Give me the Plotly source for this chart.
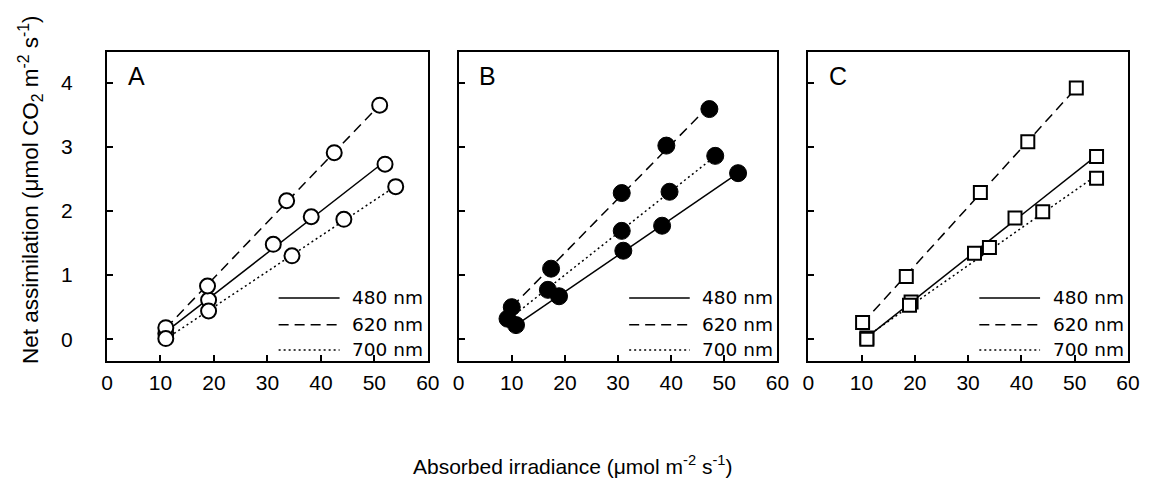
import numpy as np
import plotly.graph_objects as go

# ---------------- data ----------------
panel_labels = ["A", "B", "C"]
series_names = ["480 nm", "620 nm", "700 nm"]
x_ticks = [0, 10, 20, 30, 40, 50, 60]
y_ticks = [0, 1, 2, 3, 4]

# Panel A (open circles)
a_480_x = [11.0, 19.0, 31.1, 38.2, 52.0]
a_480_y = [0.09, 0.61, 1.48, 1.91, 2.73]
a_620_x = [11.0, 18.8, 33.6, 42.5, 51.0]
a_620_y = [0.18, 0.83, 2.16, 2.91, 3.65]
a_700_x = [11.0, 19.0, 34.6, 44.3, 54.0]
a_700_y = [0.01, 0.44, 1.30, 1.87, 2.38]

# Panel B (filled circles)
b_480_x = [10.8, 18.9, 31.0, 38.3, 52.6]
b_480_y = [0.22, 0.67, 1.38, 1.77, 2.59]
b_620_x = [10.0, 17.4, 30.7, 39.1, 47.2]
b_620_y = [0.50, 1.10, 2.28, 3.02, 3.59]
b_700_x = [9.2, 16.8, 30.7, 39.7, 48.3]
b_700_y = [0.32, 0.77, 1.69, 2.30, 2.86]

# Panel C (open squares)
c_480_x = [11.0, 19.3, 31.2, 38.8, 54.1]
c_480_y = [0.02, 0.58, 1.34, 1.89, 2.85]
c_620_x = [10.2, 18.4, 32.3, 41.2, 50.3]
c_620_y = [0.26, 0.98, 2.29, 3.08, 3.92]
c_700_x = [11.0, 19.0, 34.0, 44.0, 54.1]
c_700_y = [0.00, 0.53, 1.43, 1.99, 2.51]

panel_data = [
    [(a_480_x, a_480_y), (a_620_x, a_620_y), (a_700_x, a_700_y)],
    [(b_480_x, b_480_y), (b_620_x, b_620_y), (b_700_x, b_700_y)],
    [(c_480_x, c_480_y), (c_620_x, c_620_y), (c_700_x, c_700_y)],
]

# ---------------- styles ----------------
dashes = ["solid", "10px,6px", "2px,3px"]
markers = [
    dict(symbol="circle", size=15, color="white", line=dict(color="black", width=2)),
    dict(symbol="circle", size=17, color="black", line=dict(color="black", width=1)),
    dict(symbol="square", size=13, color="white", line=dict(color="black", width=2)),
]
domains = [[0.0, 0.3142], [0.3444, 0.6566], [0.6868, 1.0]]
Y_RANGE = [-0.34, 4.48]
FONT = "Liberation Sans, Arial, sans-serif"

fig = go.Figure()
for p in range(3):
    xa = "x" if p == 0 else f"x{p+1}"
    ya = "y" if p == 0 else f"y{p+1}"
    # regression lines
    for s, (xs, ys) in enumerate(panel_data[p]):
        coef = np.polyfit(xs, ys, 1)
        xf = np.array([min(xs), max(xs)])
        fig.add_trace(go.Scatter(
            x=xf, y=np.polyval(coef, xf), mode="lines",
            line=dict(color="black", width=1.5, dash=dashes[s]),
            xaxis=xa, yaxis=ya, showlegend=False, hoverinfo="skip"))
    # markers
    for s, (xs, ys) in enumerate(panel_data[p]):
        fig.add_trace(go.Scatter(
            x=xs, y=ys, mode="markers", marker=markers[p],
            name=series_names[s], xaxis=xa, yaxis=ya, showlegend=False))

# empty trace so the label-only overlay axis is drawn
fig.add_trace(go.Scatter(x=[None], y=[None], xaxis="x", yaxis="y4",
                         showlegend=False, hoverinfo="skip"))

layout = dict(
    width=1152, height=487,
    margin=dict(l=107, r=17, t=52, b=126),
    paper_bgcolor="white", plot_bgcolor="white",
    font=dict(family=FONT, size=21, color="black"),
    showlegend=False,
)
shapes = []
annotations = []
for p in range(3):
    xk = "xaxis" if p == 0 else f"xaxis{p+1}"
    yk = "yaxis" if p == 0 else f"yaxis{p+1}"
    xr = "x" if p == 0 else f"x{p+1}"
    yr = "y" if p == 0 else f"y{p+1}"
    layout[xk] = dict(
        domain=domains[p], range=[0, 60], tickvals=x_ticks,
        ticks="inside", ticklen=6, tickwidth=2, tickcolor="black",
        showline=True, linewidth=2, linecolor="black", mirror=True,
        showgrid=False, zeroline=False, anchor=yr,
        tickfont=dict(family=FONT, size=21), ticklabelstandoff=2,
        ticklabeloverflow="allow",
    )
    layout[yk] = dict(
        domain=[0, 1], range=Y_RANGE, tickvals=y_ticks,
        ticks="inside", ticklen=6, tickwidth=2, tickcolor="black",
        showline=True, linewidth=2, linecolor="black", mirror=True,
        showgrid=False, zeroline=False, anchor=xr,
        showticklabels=False,
    )
    # panel letter
    annotations.append(dict(
        text=panel_labels[p], xref=f"{xr} domain", yref=f"{yr} domain",
        x=0.058, y=0.922, xanchor="left", yanchor="middle", showarrow=False,
        font=dict(family=FONT, size=25)))
    # legend
    rows = [0.204, 0.117, 0.036]
    for s in range(3):
        shapes.append(dict(
            type="line", xref=f"{xr} domain", yref=f"{yr} domain",
            x0=0.535, x1=0.725, y0=rows[s], y1=rows[s],
            line=dict(color="black", width=1.5, dash=dashes[s])))
        annotations.append(dict(
            text=series_names[s], xref=f"{xr} domain", yref=f"{yr} domain",
            x=0.758, y=rows[s], xanchor="left", yanchor="middle", showarrow=False,
            font=dict(family="DejaVu Sans, sans-serif", size=18.5)))

# label-only y axis for panel A (labels sit well away from the frame)
layout["yaxis4"] = dict(
    overlaying="y", anchor="x", side="left", range=Y_RANGE, tickvals=y_ticks,
    ticks="outside", ticklen=29, tickcolor="rgba(0,0,0,0)",
    showline=False, showgrid=False, zeroline=False,
    tickfont=dict(family=FONT, size=21),
)

annotations.append(dict(
    text="Net assimilation (μmol CO<sub>2</sub> m<sup>-2</sup> s<sup>-1</sup>)",
    xref="paper", yref="paper", x=-0.0749, y=0.555, textangle=-90,
    xanchor="center", yanchor="middle", showarrow=False,
    font=dict(family=FONT, size=22.5)))
annotations.append(dict(
    text="Absorbed irradiance (μmol m<sup>-2</sup> s<sup>-1</sup>)",
    xref="paper", yref="paper", x=0.456, y=-0.338,
    xanchor="center", yanchor="middle", showarrow=False,
    font=dict(family=FONT, size=21)))

layout["shapes"] = shapes
layout["annotations"] = annotations
fig.update_layout(**layout)
fig.write_html(
    "out.html",
    config={"displayModeBar": False},
    post_script="document.body.style.margin='0';document.body.style.overflow='hidden';",
)
